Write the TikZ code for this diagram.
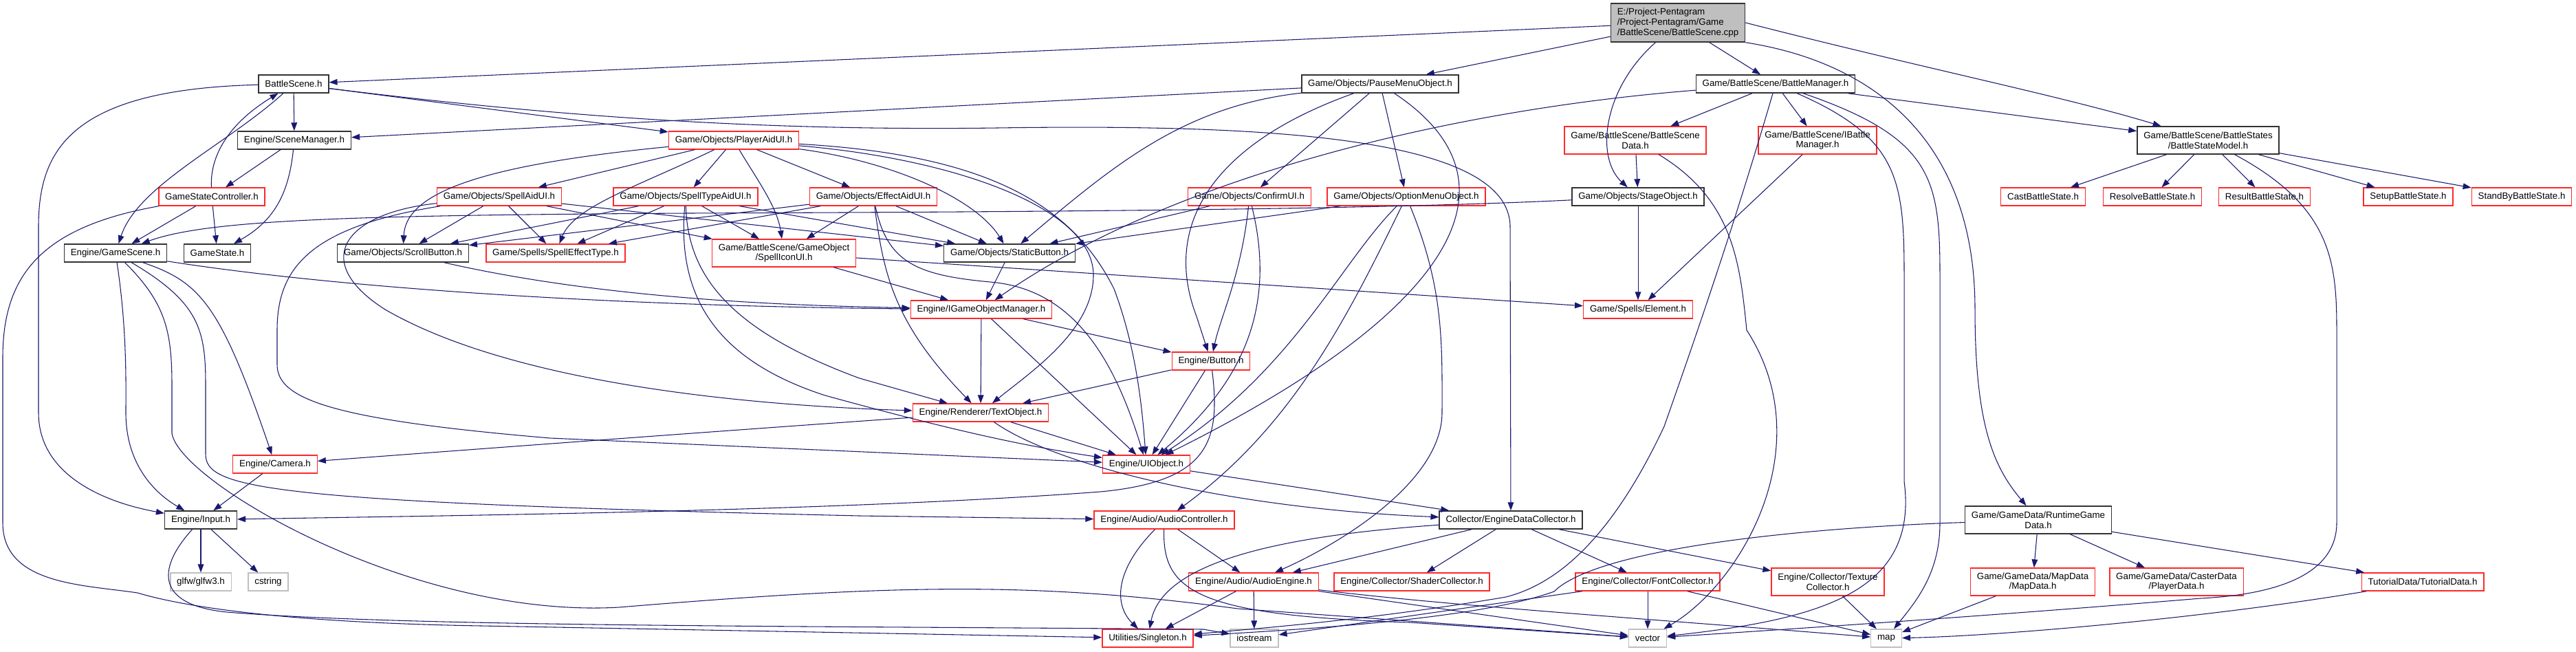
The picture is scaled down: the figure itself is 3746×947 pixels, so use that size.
\documentclass[tikz,border=0pt]{standalone}
\usepackage{fontspec}
\setmainfont{Liberation Sans}
\usepackage{tikz}
\usetikzlibrary{arrows.meta}
\definecolor{edgeblue}{RGB}{25,25,112}
\definecolor{rootfill}{RGB}{191,191,191}
\definecolor{sysline}{RGB}{191,191,191}
\definecolor{hdrred}{RGB}{255,40,40}
\tikzset{
  hdr/.style={rectangle,draw=black!80,line width=1.1pt,fill=white,minimum height=19.5pt,inner xsep=7pt,inner ysep=2pt,font=\fontsize{10}{11}\selectfont,align=center},
  redhdr/.style={hdr,draw=hdrred,line width=1pt},
  syshdr/.style={hdr,draw=sysline,line width=1pt},
  twoline/.style={minimum height=30pt},
  rootfile/.style={hdr,fill=rootfill,minimum height=42pt,align=left}
}

\begin{document}
\begin{tikzpicture}[
  x=0.75pt,y=-0.75pt,
  dep/.style={draw=edgeblue,line width=0.8pt,-{Triangle[length=9pt,width=6.5pt]}}
]
  \useasboundingbox (0,0) rectangle (3746,947);

  % --- Row 0: the source file ---
  \node[rootfile] (cpp) at (2440,33) {E:/Project-Pentagram\\/Project-Pentagram/Game\\/BattleScene/BattleScene.cpp};

  % --- Row 1 ---
  \node[hdr]    (battlescene) at (427,122)  {BattleScene.h};
  \node[hdr]    (pausemenu)   at (2007,122) {Game/Objects/PauseMenuObject.h};
  \node[hdr]    (battlemgr)   at (2582,122) {Game/BattleScene/BattleManager.h};

  % --- Row 2 ---
  \node[hdr]    (scenemgr)   at (428,204)  {Engine/SceneManager.h};
  \node[redhdr] (playeraid)  at (1067,204) {Game/Objects/PlayerAidUI.h};
  \node[redhdr,twoline] (bsdata)     at (2378,204) {Game/BattleScene/BattleScene\\Data.h};
  \node[redhdr,twoline] (ibattlemgr) at (2643,204) {Game/BattleScene/IBattle\\Manager.h};
  \node[hdr,twoline]    (statemodel) at (3211,204) {Game/BattleScene/BattleStates\\/BattleStateModel.h};

  % --- Row 3 ---
  \node[redhdr] (gsctrl)    at (308,286)  {GameStateController.h};
  \node[redhdr] (spellaid)  at (726,286)  {Game/Objects/SpellAidUI.h};
  \node[redhdr] (spelltype) at (997,286)  {Game/Objects/SpellTypeAidUI.h};
  \node[redhdr] (effectaid) at (1270,286) {Game/Objects/EffectAidUI.h};
  \node[redhdr] (confirm)   at (1817,286) {Game/Objects/ConfirmUI.h};
  \node[redhdr] (option)    at (2045,286) {Game/Objects/OptionMenuObject.h};
  \node[hdr]    (stage)     at (2382,286) {Game/Objects/StageObject.h};
  \node[redhdr] (cast)      at (2971,286) {CastBattleState.h};
  \node[redhdr] (resolve)   at (3130,286) {ResolveBattleState.h};
  \node[redhdr] (result)    at (3293,286) {ResultBattleState.h};
  \node[redhdr] (setup)     at (3502,286) {SetupBattleState.h};
  \node[redhdr] (standby)   at (3667,286) {StandByBattleState.h};

  % --- Row 4 ---
  \node[hdr]    (gamescene)  at (168,368)  {Engine/GameScene.h};
  \node[hdr]    (gamestate)  at (316,368)  {GameState.h};
  \node[hdr]    (scroll)     at (586,368)  {Game/Objects/ScrollButton.h};
  \node[redhdr] (effecttype) at (808,368)  {Game/Spells/SpellEffectType.h};
  \node[redhdr,twoline] (spellicon) at (1140,368) {Game/BattleScene/GameObject\\/SpellIconUI.h};
  \node[hdr]    (staticbtn)  at (1468,368) {Game/Objects/StaticButton.h};

  % --- Rows 5 to 7 ---
  \node[redhdr] (igom)     at (1427,450) {Engine/IGameObjectManager.h};
  \node[redhdr] (element)  at (2382,450) {Game/Spells/Element.h};
  \node[redhdr] (button)   at (1761,525) {Engine/Button.h};
  \node[redhdr] (textobj)  at (1426,600) {Engine/Renderer/TextObject.h};
  \node[redhdr] (camera)   at (400,675)  {Engine/Camera.h};
  \node[redhdr] (uiobj)    at (1667,675) {Engine/UIObject.h};

  % --- Row 8 ---
  \node[hdr]    (input)     at (292,756)  {Engine/Input.h};
  \node[redhdr] (audioctrl) at (1693,756) {Engine/Audio/AudioController.h};
  \node[hdr]    (edc)       at (2197,756) {Collector/EngineDataCollector.h};
  \node[hdr,twoline] (runtime) at (2964,756) {Game/GameData/RuntimeGame\\Data.h};

  % --- Row 9 ---
  \node[syshdr] (glfw)     at (292,846)  {glfw/glfw3.h};
  \node[syshdr] (cstring)  at (390,846)  {cstring};
  \node[redhdr] (audioeng) at (1823,846) {Engine/Audio/AudioEngine.h};
  \node[redhdr] (shader)   at (2053,846) {Engine/Collector/ShaderCollector.h};
  \node[redhdr] (font)     at (2396,846) {Engine/Collector/FontCollector.h};
  \node[redhdr,twoline] (texture)    at (2658,846) {Engine/Collector/Texture\\Collector.h};
  \node[redhdr,twoline] (mapdata)    at (2956,846) {Game/GameData/MapData\\/MapData.h};
  \node[redhdr,twoline] (playerdata) at (3165,846) {Game/GameData/CasterData\\/PlayerData.h};
  \node[redhdr] (tutorial) at (3523,846) {TutorialData/TutorialData.h};

  % --- Row 10: leaves ---
  \node[redhdr] (singleton) at (1669,928) {Utilities/Singleton.h};
  \node[syshdr] (iostream)  at (1824,928) {iostream};
  \node[syshdr] (vector)    at (2396,928) {vector};
  \node[syshdr] (map)       at (2743,928) {map};

  % --- Edges from the source file ---
  \draw[dep] (cpp) -- (battlescene);
  \draw[dep] (cpp) -- (pausemenu);
  \draw[dep] (cpp) .. controls (2330,130) and (2320,230) .. (stage);
  \draw[dep] (cpp) -- (battlemgr);
  \draw[dep] (cpp.south east) .. controls (2720,90) and (2872,200) .. (2872,450) .. controls (2872,620) and (2900,680) .. (runtime);
  \draw[dep] (cpp.east) .. controls (2800,100) and (3000,140) .. (statemodel);

  % --- Edges from BattleScene.h ---
  \draw[dep] (battlescene) -- (scenemgr);
  \draw[dep] (battlescene) -- (playeraid);
  \draw[dep] (battlescene) .. controls (100,130) and (56,220) .. (56,330) -- (56,600) .. controls (56,690) and (150,730) .. (input);
  \draw[dep] (battlescene) .. controls (330,210) and (200,270) .. (gamescene);
  \draw[dep] (battlescene) .. controls (850,175) and (1150,190) .. (1450,186) .. controls (1850,180) and (2196,200) .. (2196,330) -- (edc);

  % --- Edges from the scene control headers ---
  \draw[dep] (gsctrl) .. controls (305,220) and (340,175) .. (battlescene);
  \draw[dep] (gsctrl) -- (gamescene);
  \draw[dep] (gsctrl) -- (gamestate);
  \draw[dep] (gsctrl) .. controls (60,330) and (4,400) .. (4,520) -- (4,760) .. controls (4,850) and (120,850) .. (200,862) .. controls (260,880) and (400,905) .. (700,910) -- (singleton);
  \draw[dep] (scenemgr) -- (gsctrl);
  \draw[dep] (scenemgr) .. controls (420,280) and (400,320) .. (gamestate);

  % --- Edges from PauseMenuObject.h ---
  \draw[dep] (pausemenu) -- (scenemgr);
  \draw[dep] (pausemenu) .. controls (1720,155) and (1620,240) .. (staticbtn);
  \draw[dep] (pausemenu) .. controls (1760,210) and (1690,330) .. (1740,460) -- (button);
  \draw[dep] (pausemenu) -- (confirm);
  \draw[dep] (pausemenu) -- (option);
  \draw[dep] (pausemenu) .. controls (2230,270) and (2100,460) .. (uiobj);

  % --- Edges from ConfirmUI.h and OptionMenuObject.h ---
  \draw[dep] (confirm) -- (staticbtn);
  \draw[dep] (confirm) .. controls (1805,400) and (1775,460) .. (button);
  \draw[dep] (confirm) .. controls (1850,420) and (1830,540) .. (uiobj);
  \draw[dep] (option) -- (staticbtn);
  \draw[dep] (option) .. controls (1950,380) and (1880,540) .. (uiobj);
  \draw[dep] (option) .. controls (1960,460) and (1880,620) .. (audioctrl);
  \draw[dep] (option) .. controls (2100,420) and (2097,500) .. (2097,600) .. controls (2097,700) and (1950,790) .. (audioeng);

  % --- Edges from StageObject.h and BattleSceneData.h ---
  \draw[dep] (stage) .. controls (2000,305) and (1500,308) .. (1000,310) .. controls (500,313) and (300,320) .. (gamescene);
  \draw[dep] (stage) -- (element);
  \draw[dep] (bsdata) -- (stage);
  \draw[dep] (bsdata) .. controls (2520,290) and (2530,380) .. (2540,480) .. controls (2650,650) and (2530,850) .. (vector);

  % --- Edges from BattleManager.h ---
  \draw[dep] (battlemgr) -- (bsdata);
  \draw[dep] (battlemgr) -- (ibattlemgr);
  \draw[dep] (battlemgr) -- (statemodel);
  \draw[dep] (battlemgr) .. controls (2100,160) and (1700,260) .. (igom);
  \draw[dep] (battlemgr) .. controls (2530,300) and (2480,450) .. (2420,620) .. controls (2340,790) and (2260,850) .. (2190,868) .. controls (2000,900) and (1850,912) .. (singleton);
  \draw[dep] (battlemgr) .. controls (2760,200) and (2769,260) .. (2769,400) -- (2769,700) .. controls (2790,860) and (2650,900) .. (vector);
  \draw[dep] (battlemgr) .. controls (2810,200) and (2821,260) .. (2821,400) -- (2821,760) .. controls (2821,830) and (2790,870) .. (map);
  \draw[dep] (ibattlemgr) -- (element);

  % --- Edges from BattleStateModel.h ---
  \draw[dep] (statemodel) -- (cast);
  \draw[dep] (statemodel) -- (resolve);
  \draw[dep] (statemodel) -- (result);
  \draw[dep] (statemodel) -- (setup);
  \draw[dep] (statemodel) -- (standby);
  \draw[dep] (statemodel) .. controls (3390,300) and (3398,380) .. (3398,480) -- (3398,760) .. controls (3398,840) and (3300,865) .. (3200,870) .. controls (2900,895) and (2600,915) .. (vector);

  % --- Edges from PlayerAidUI.h ---
  \draw[dep] (playeraid) -- (spellaid);
  \draw[dep] (playeraid) -- (spelltype);
  \draw[dep] (playeraid) -- (effectaid);
  \draw[dep] (playeraid) .. controls (1100,260) and (1130,300) .. (spellicon);
  \draw[dep] (playeraid) .. controls (700,240) and (590,280) .. (scroll);
  \draw[dep] (playeraid) .. controls (930,270) and (835,300) .. (effecttype);
  \draw[dep] (playeraid) .. controls (1300,235) and (1420,290) .. (staticbtn);
  \draw[dep] (playeraid) .. controls (1380,230) and (1590,300) .. (1590,400) .. controls (1590,480) and (1500,540) .. (textobj);
  \draw[dep] (playeraid) .. controls (1440,225) and (1560,300) .. (1620,420) .. controls (1650,500) and (1660,580) .. (uiobj);

  % --- Edges from SpellAidUI.h ---
  \draw[dep] (spellaid) -- (scroll);
  \draw[dep] (spellaid) -- (effecttype);
  \draw[dep] (spellaid) -- (spellicon);
  \draw[dep] (spellaid) -- (staticbtn);
  \draw[dep] (spellaid) .. controls (450,330) and (403,390) .. (403,480) -- (403,530) .. controls (403,580) and (480,610) .. (800,637) -- (uiobj);
  \draw[dep] (spellaid) .. controls (500,310) and (450,380) .. (560,450) .. controls (750,560) and (1100,590) .. (textobj);

  % --- Edges from SpellTypeAidUI.h ---
  \draw[dep] (spelltype) -- (scroll);
  \draw[dep] (spelltype) -- (effecttype);
  \draw[dep] (spelltype) -- (spellicon);
  \draw[dep] (spelltype) -- (staticbtn);
  \draw[dep] (spelltype) .. controls (1000,400) and (1060,480) .. (1250,550) -- (textobj);
  \draw[dep] (spelltype) .. controls (985,420) and (1030,520) .. (1200,575) .. controls (1400,630) and (1500,650) .. (uiobj);

  % --- Edges from EffectAidUI.h ---
  \draw[dep] (effectaid) -- (scroll);
  \draw[dep] (effectaid) -- (effecttype);
  \draw[dep] (effectaid) -- (spellicon);
  \draw[dep] (effectaid) -- (staticbtn);
  \draw[dep] (effectaid) .. controls (1285,400) and (1300,470) .. (textobj);
  \draw[dep] (effectaid) .. controls (1290,380) and (1330,400) .. (1440,410) .. controls (1560,420) and (1620,520) .. (uiobj);

  % --- Edges from the button and icon headers ---
  \draw[dep] (spellicon) -- (igom);
  \draw[dep] (spellicon) -- (element);
  \draw[dep] (staticbtn) -- (igom);
  \draw[dep] (scroll) .. controls (900,440) and (1200,445) .. (igom);

  % --- Edges from GameScene.h ---
  \draw[dep] (gamescene) .. controls (185,480) and (183,560) .. (183,600) .. controls (183,680) and (230,720) .. (input);
  \draw[dep] (gamescene) .. controls (240,440) and (250,480) .. (250,560) -- (250,630) .. controls (260,700) and (600,900) .. (900,883) .. controls (1300,850) and (1500,845) .. (1800,885) -- (vector);
  \draw[dep] (gamescene) .. controls (290,440) and (299,480) .. (299,560) -- (299,660) .. controls (299,710) and (380,730) .. (1250,750) -- (audioctrl);
  \draw[dep] (gamescene) .. controls (290,410) and (320,440) .. (camera);
  \draw[dep] (gamescene) .. controls (500,420) and (900,445) .. (igom);

  % --- Edges from the engine object headers ---
  \draw[dep] (igom) -- (textobj);
  \draw[dep] (igom) -- (uiobj);
  \draw[dep] (igom) -- (button);
  \draw[dep] (button) -- (textobj);
  \draw[dep] (button) -- (uiobj);
  \draw[dep] (button) .. controls (1775,640) and (1760,700) .. (1600,715) .. controls (1200,745) and (600,750) .. (input);
  \draw[dep] (textobj) -- (uiobj);
  \draw[dep] (textobj) .. controls (1540,680) and (1800,740) .. (edc);
  \draw[dep] (textobj) .. controls (1000,630) and (600,660) .. (camera);
  \draw[dep] (camera) -- (input);
  \draw[dep] (uiobj) -- (edc);

  % --- Edges from Input.h ---
  \draw[dep] (input) -- (glfw);
  \draw[dep] (input) -- (cstring);
  \draw[dep] (input) .. controls (225,830) and (230,880) .. (330,890) .. controls (600,912) and (1200,910) .. (1750,915) -- (iostream);

  % --- Edges from the audio and collector headers ---
  \draw[dep] (audioctrl) -- (audioeng);
  \draw[dep] (audioctrl) .. controls (1620,830) and (1620,880) .. (singleton);
  \draw[dep] (audioctrl) .. controls (1690,860) and (1740,895) .. (2050,905) -- (vector);
  \draw[dep] (edc) -- (audioeng);
  \draw[dep] (edc) -- (shader);
  \draw[dep] (edc) -- (font);
  \draw[dep] (edc) -- (texture);
  \draw[dep] (edc) .. controls (1850,780) and (1690,820) .. (singleton);
  \draw[dep] (audioeng) -- (singleton);
  \draw[dep] (audioeng) -- (iostream);
  \draw[dep] (audioeng) -- (vector);
  \draw[dep] (audioeng) .. controls (2100,880) and (2400,900) .. (map);
  \draw[dep] (font) -- (vector);
  \draw[dep] (font) -- (iostream);
  \draw[dep] (font) -- (map);
  \draw[dep] (texture) -- (map);

  % --- Edges from RuntimeGameData.h ---
  \draw[dep] (runtime) -- (mapdata);
  \draw[dep] (runtime) -- (playerdata);
  \draw[dep] (runtime) -- (tutorial);
  \draw[dep] (runtime) .. controls (2600,768) and (2320,800) .. (2260,860) .. controls (2150,900) and (1900,915) .. (singleton);
  \draw[dep] (mapdata) -- (map);
  \draw[dep] (tutorial) .. controls (3200,900) and (2900,925) .. (map);
\end{tikzpicture}
\end{document}
